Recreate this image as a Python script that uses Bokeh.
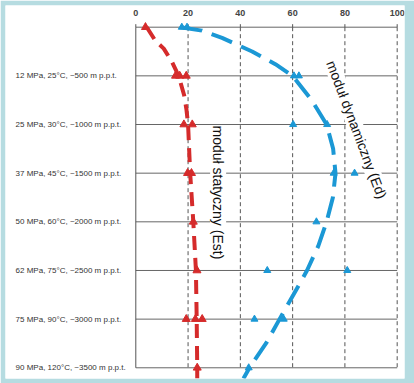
from bokeh.plotting import figure
from bokeh.models import Range1d
from bokeh.core.properties import value
from bokeh.embed import file_html
from bokeh.resources import INLINE

# ---- data ----
x_ticks = [0, 20, 40, 60, 80, 100]
row_depths = [500, 1000, 1500, 2000, 2500, 3000, 3500]
row_labels = [
    "12 MPa, 25°C, ~500 m p.p.t.",
    "25 MPa, 30°C, ~1000 m p.p.t.",
    "37 MPa, 45°C, ~1500 m p.p.t.",
    "50 MPa, 60°C, ~2000 m p.p.t.",
    "62 MPa, 75°C, ~2500 m p.p.t.",
    "75 MPa, 90°C, ~3000 m p.p.t.",
    "90 MPa, 120°C, ~3500 m p.p.t.",
]

# static modulus (Est) - fitted curve
est_curve_depth = [0, 140, 220, 360, 500, 700, 850, 1000, 1500, 2000, 2500, 3000, 3500, 3610]
est_curve_val = [4.2, 7.5, 10.7, 13.9, 16.4, 18.5, 19.4, 20.0, 20.8, 22.0, 23.0, 23.3, 23.5, 23.5]
# static modulus measurements
est_pt_depth = [0, 500, 500, 500, 1000, 1000, 1500, 1500, 2000, 2500, 3000, 3000, 3000, 3500]
est_pt_val = [3.7, 15.2, 16.8, 19.3, 18.4, 21.6, 19.8, 21.3, 22.0, 23.4, 19.3, 22.8, 25.4, 23.5]

# dynamic modulus (Ed) - fitted curve
ed_curve_depth = [0, 35, 110, 250, 380, 500, 750, 1000, 1250, 1500, 1750, 2000, 2250, 2500,
                  2750, 3000, 3250, 3500, 3610]
ed_curve_val = [17.1, 25.3, 33.0, 44.5, 53.4, 60.0, 67.3, 73.0, 75.5, 76.4, 75.4, 73.0, 69.8, 65.5,
                60.3, 55.0, 49.8, 43.5, 41.2]
# dynamic modulus measurements
ed_pt_depth = [0, 0, 500, 500, 1000, 1000, 1500, 1500, 2000, 2500, 2500, 3000, 3000, 3500]
ed_pt_val = [17.6, 19.6, 60.5, 62.4, 60.2, 73.2, 75.7, 83.7, 69.1, 50.3, 80.9, 45.4, 56.6, 43.2]

RED = "#d52b2b"
BLUE = "#1b98d5"
TEAL = "#b6dce1"
FONT = "Liberation Sans"

# layout constants (data units)
LABEL_X = -46.0        # left edge of the row labels
TICK_LABEL_Y = -144    # vertical centre of the top tick labels
TICK_TOP = -31         # outer end of the top tick marks

p = figure(width=414, height=383, output_backend="svg", toolbar_location=None,
           x_axis_location=None, y_axis_location=None,
           x_range=Range1d(-49.85, 102.8), y_range=Range1d(3610, -223),
           min_border_left=5, min_border_right=10, min_border_top=5, min_border_bottom=5)
p.outline_line_color = None
p.xgrid.visible = False
p.ygrid.visible = False
p.background_fill_color = "white"
p.border_fill_color = TEAL

# grid: horizontal solid rows, vertical dashed columns, left axis line
all_rows = [0] + row_depths
n = len(all_rows)
p.segment(x0=[x_ticks[0]] * n, x1=[x_ticks[-1]] * n, y0=all_rows, y1=all_rows,
          line_color="#666666", line_width=1)
m = len(x_ticks) - 1
p.segment(x0=x_ticks[1:], x1=x_ticks[1:], y0=[0] * m, y1=[row_depths[-1]] * m,
          line_color="#555555", line_width=1, line_dash="4 3")
p.segment(x0=[x_ticks[0]], x1=[x_ticks[0]], y0=[0], y1=[row_depths[-1]],
          line_color="#555555", line_width=1)
# top ticks
p.segment(x0=x_ticks, x1=x_ticks, y0=[0] * len(x_ticks), y1=[TICK_TOP] * len(x_ticks),
          line_color="#555555", line_width=1)
p.text(x=x_ticks, y=[TICK_LABEL_Y] * len(x_ticks), text=[str(t) for t in x_ticks],
       text_align="center", text_baseline="middle", text_font=value(FONT),
       text_font_style="bold", text_font_size="9px", text_color="#444444")

# row labels
p.text(x=[LABEL_X] * len(row_depths), y=row_depths, text=row_labels,
       text_align="left", text_baseline="middle", text_font=value(FONT),
       text_font_size="8px", text_color="#333333")

# curves
p.line(est_curve_val, est_curve_depth, line_color=RED, line_width=4, line_dash="14 8")
p.line(ed_curve_val, ed_curve_depth, line_color=BLUE, line_width=4, line_dash="22 10")

# measurements
p.scatter(est_pt_val, est_pt_depth, marker="triangle", size=8, fill_color=RED, line_color=RED)
p.scatter(ed_pt_val, ed_pt_depth, marker="triangle", size=7, fill_color=BLUE, line_color=BLUE)

# rotated curve labels with white box
p.text(x=[31.5], y=[1010], text=["moduł statyczny (Est)"], angle=-90, angle_units="deg",
       text_align="left", text_baseline="middle", text_font=value(FONT),
       text_font_size="14px", text_color="#111111", background_fill_color="white")
p.text(x=[74.6], y=[350], text=["moduł dynamiczny (Ed)"], angle=-69.3, angle_units="deg",
       text_align="left", text_baseline="middle", text_font=value(FONT),
       text_font_size="14px", text_color="#111111", background_fill_color="white")

open("out.html", "w").write(file_html(p, INLINE))
